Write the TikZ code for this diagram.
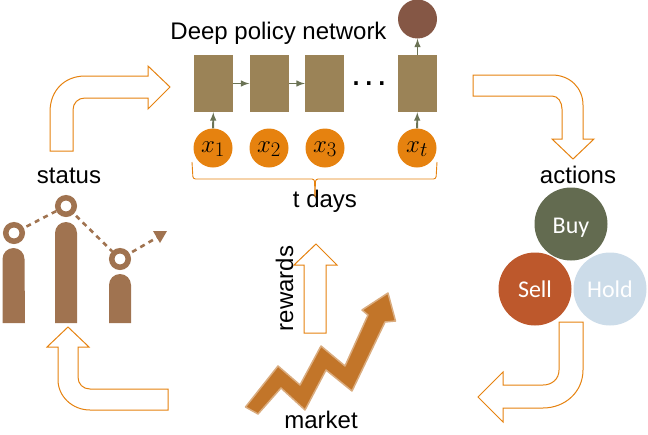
\documentclass[tikz,border=0pt]{standalone}
\usepackage{fontspec}
\setmainfont{Liberation Sans}
\newfontfamily\circlefont{Carlito}
\definecolor{boxbrown}{HTML}{9B8357}
\definecolor{inputorange}{HTML}{E6820F}
\definecolor{outputbrown}{HTML}{855745}
\definecolor{linkgreen}{HTML}{6B7355}
\definecolor{buygreen}{HTML}{636B50}
\definecolor{sellred}{HTML}{BD582C}
\definecolor{holdblue}{HTML}{CCDCE9}
\definecolor{iconbrown}{HTML}{A07350}
\definecolor{marketorange}{HTML}{C27529}
\tikzset{
  bigtext/.style={anchor=base,inner sep=0pt,font=\fontsize{24}{28}\selectfont},
  cell/.style={fill=boxbrown,minimum width=39pt,minimum height=57pt,inner sep=0pt},
  input/.style={circle,fill=inputorange,minimum size=39pt,inner sep=0pt,text height=11pt,text depth=3pt,font=\fontsize{24.88}{28}\selectfont},
  choice/.style={circle,minimum size=73pt,inner sep=0pt,text=white,font=\circlefont\fontsize{24}{28}\selectfont},
  link/.style={draw=linkgreen,line width=1.9pt,-latex},
  flow/.style={draw=inputorange,line width=1pt,fill=white,line join=miter},
  ring/.style={circle,draw=iconbrown,line width=5.5pt,minimum size=16.5pt,inner sep=0pt},
  trend/.style={draw=iconbrown,line width=2.6pt,dash pattern=on 5pt off 4.5pt,shorten <=3pt},
}
\begin{document}
\begin{tikzpicture}[x=1pt,y=-1pt]
  \useasboundingbox (0,0) rectangle (648,434);

  \node[cell] (cell1) at (213.5,83.5) {};
  \node[cell] (cell2) at (269,83.5) {};
  \node[cell] (cell3) at (324.5,83.5) {};
  \node[cell] (cellt) at (417.5,83.5) {};
  \node[input] (x1) at (213,148) {$x_1$};
  \node[input] (x2) at (269,148) {$x_2$};
  \node[input] (x3) at (325,148) {$x_3$};
  \node[input] (xt) at (417,148) {$x_t$};
  \node[circle,fill=outputbrown,minimum size=39pt,inner sep=0pt] (output) at (417.5,19) {};
  \node[anchor=base,inner sep=0pt,font=\fontsize{36}{40}\selectfont] (dots) at (369,85) {.\kern3pt.\kern3pt.};
  \draw[link] (x1) -- (cell1);
  \draw[link] (xt) -- (cellt);
  \draw[link] (cell1) -- (cell2);
  \draw[link] (cell2) -- (cell3);
  \draw[link] (cellt) -- (output);

  \node[bigtext] (title) at (278.5,39) {Deep policy network};
  \node[bigtext] (tdays) at (325,207) {t days};
  \node[bigtext] (status) at (69,183) {status};
  \node[bigtext] (actions) at (578,183) {actions};
  \node[bigtext] (market) at (321,428.5) {market};
  \node[bigtext,rotate=90] (rewards) at (293,288.5) {rewards};

  \draw[draw=inputorange,line width=0.9pt,rounded corners=2.5pt]
    (192,162) -- (193,179) -- (314.5,179) -- (315,197);
  \draw[draw=inputorange,line width=0.9pt,rounded corners=2.5pt]
    (437,162) -- (436,179) -- (315.5,179) -- (315,197);

  \draw[flow] (50,151) -- (50,112) .. controls (50,90) and (65,76) .. (85,76) -- (148,76)
    -- (148,66) -- (170,87) -- (148,109) -- (148,98) -- (85,98)
    .. controls (78,98) and (73,103) .. (73,110) -- (73,151) -- cycle;
  \draw[flow] (473,75) -- (473,96) -- (552,96) .. controls (558,96) and (562,102) .. (562,109)
    -- (562,139) -- (552,139) -- (573,159) -- (594,139) -- (583,139) -- (583,105)
    .. controls (583,88) and (570,75) .. (552,75) -- cycle;
  \draw[flow] (559,322) -- (583,322) -- (583,370) .. controls (583,392) and (565,408) .. (543,408)
    -- (503,408) -- (503,422) -- (478,397) -- (503,372) -- (503,385) -- (543,385)
    .. controls (552,385) and (559,379) .. (559,370) -- cycle;
  \draw[flow] (68,327) -- (89,347) -- (78,347) -- (78,377) .. controls (78,384) and (83,389) .. (90,389)
    -- (168,389) -- (168,410) -- (90,410) .. controls (72,410) and (58,396) .. (58,380)
    -- (58,347) -- (47,347) -- cycle;
  \draw[flow] (316,244) -- (337,265) -- (326,265) -- (326,333) -- (304,333) -- (304,265) -- (294,265) -- cycle;

  \node[choice,fill=sellred] (sell) at (535,289) {\smash{\raisebox{-8pt}{Sell}}};
  \node[choice,fill=holdblue] (hold) at (610,289) {\smash{\raisebox{-8pt}{Hold}}};
  \node[choice,fill=buygreen] (buy) at (571,224) {\smash{\raisebox{-9pt}{Buy}}};

  \fill[iconbrown] (2.5,323) -- (2.5,259) arc[start angle=180,end angle=0,x radius=11,y radius=-11] -- (25,323) -- cycle;
  \fill[iconbrown] (55,323) -- (55,233) arc[start angle=180,end angle=0,x radius=11,y radius=-11] -- (77,323) -- cycle;
  \fill[iconbrown] (109,323) -- (109,285) arc[start angle=180,end angle=0,x radius=11,y radius=-11] -- (131,323) -- cycle;
  \node[ring] (ring1) at (14,233) {};
  \node[ring] (ring2) at (66,206) {};
  \node[ring] (ring3) at (120,259) {};
  \coordinate (peak) at (158,237);
  \fill[iconbrown] (153,231) -- (167,231) -- (160,243) -- cycle;
  \draw[trend] (ring1) -- (ring2);
  \draw[trend] (ring2) -- (ring3);
  \draw[trend] (ring3) -- (peak);

  \draw[draw=marketorange!60,line width=1.5pt,fill=marketorange,line join=round]
    (245.5,407) -- (278,366) -- (300,385) -- (321,346) -- (345,366) -- (368,315) -- (362,310)
    -- (388,293) -- (395.5,321) -- (385,322) -- (352,391) -- (326,370) -- (305,410)
    -- (281,388) -- (258,414) -- cycle;
\end{tikzpicture}
\end{document}
